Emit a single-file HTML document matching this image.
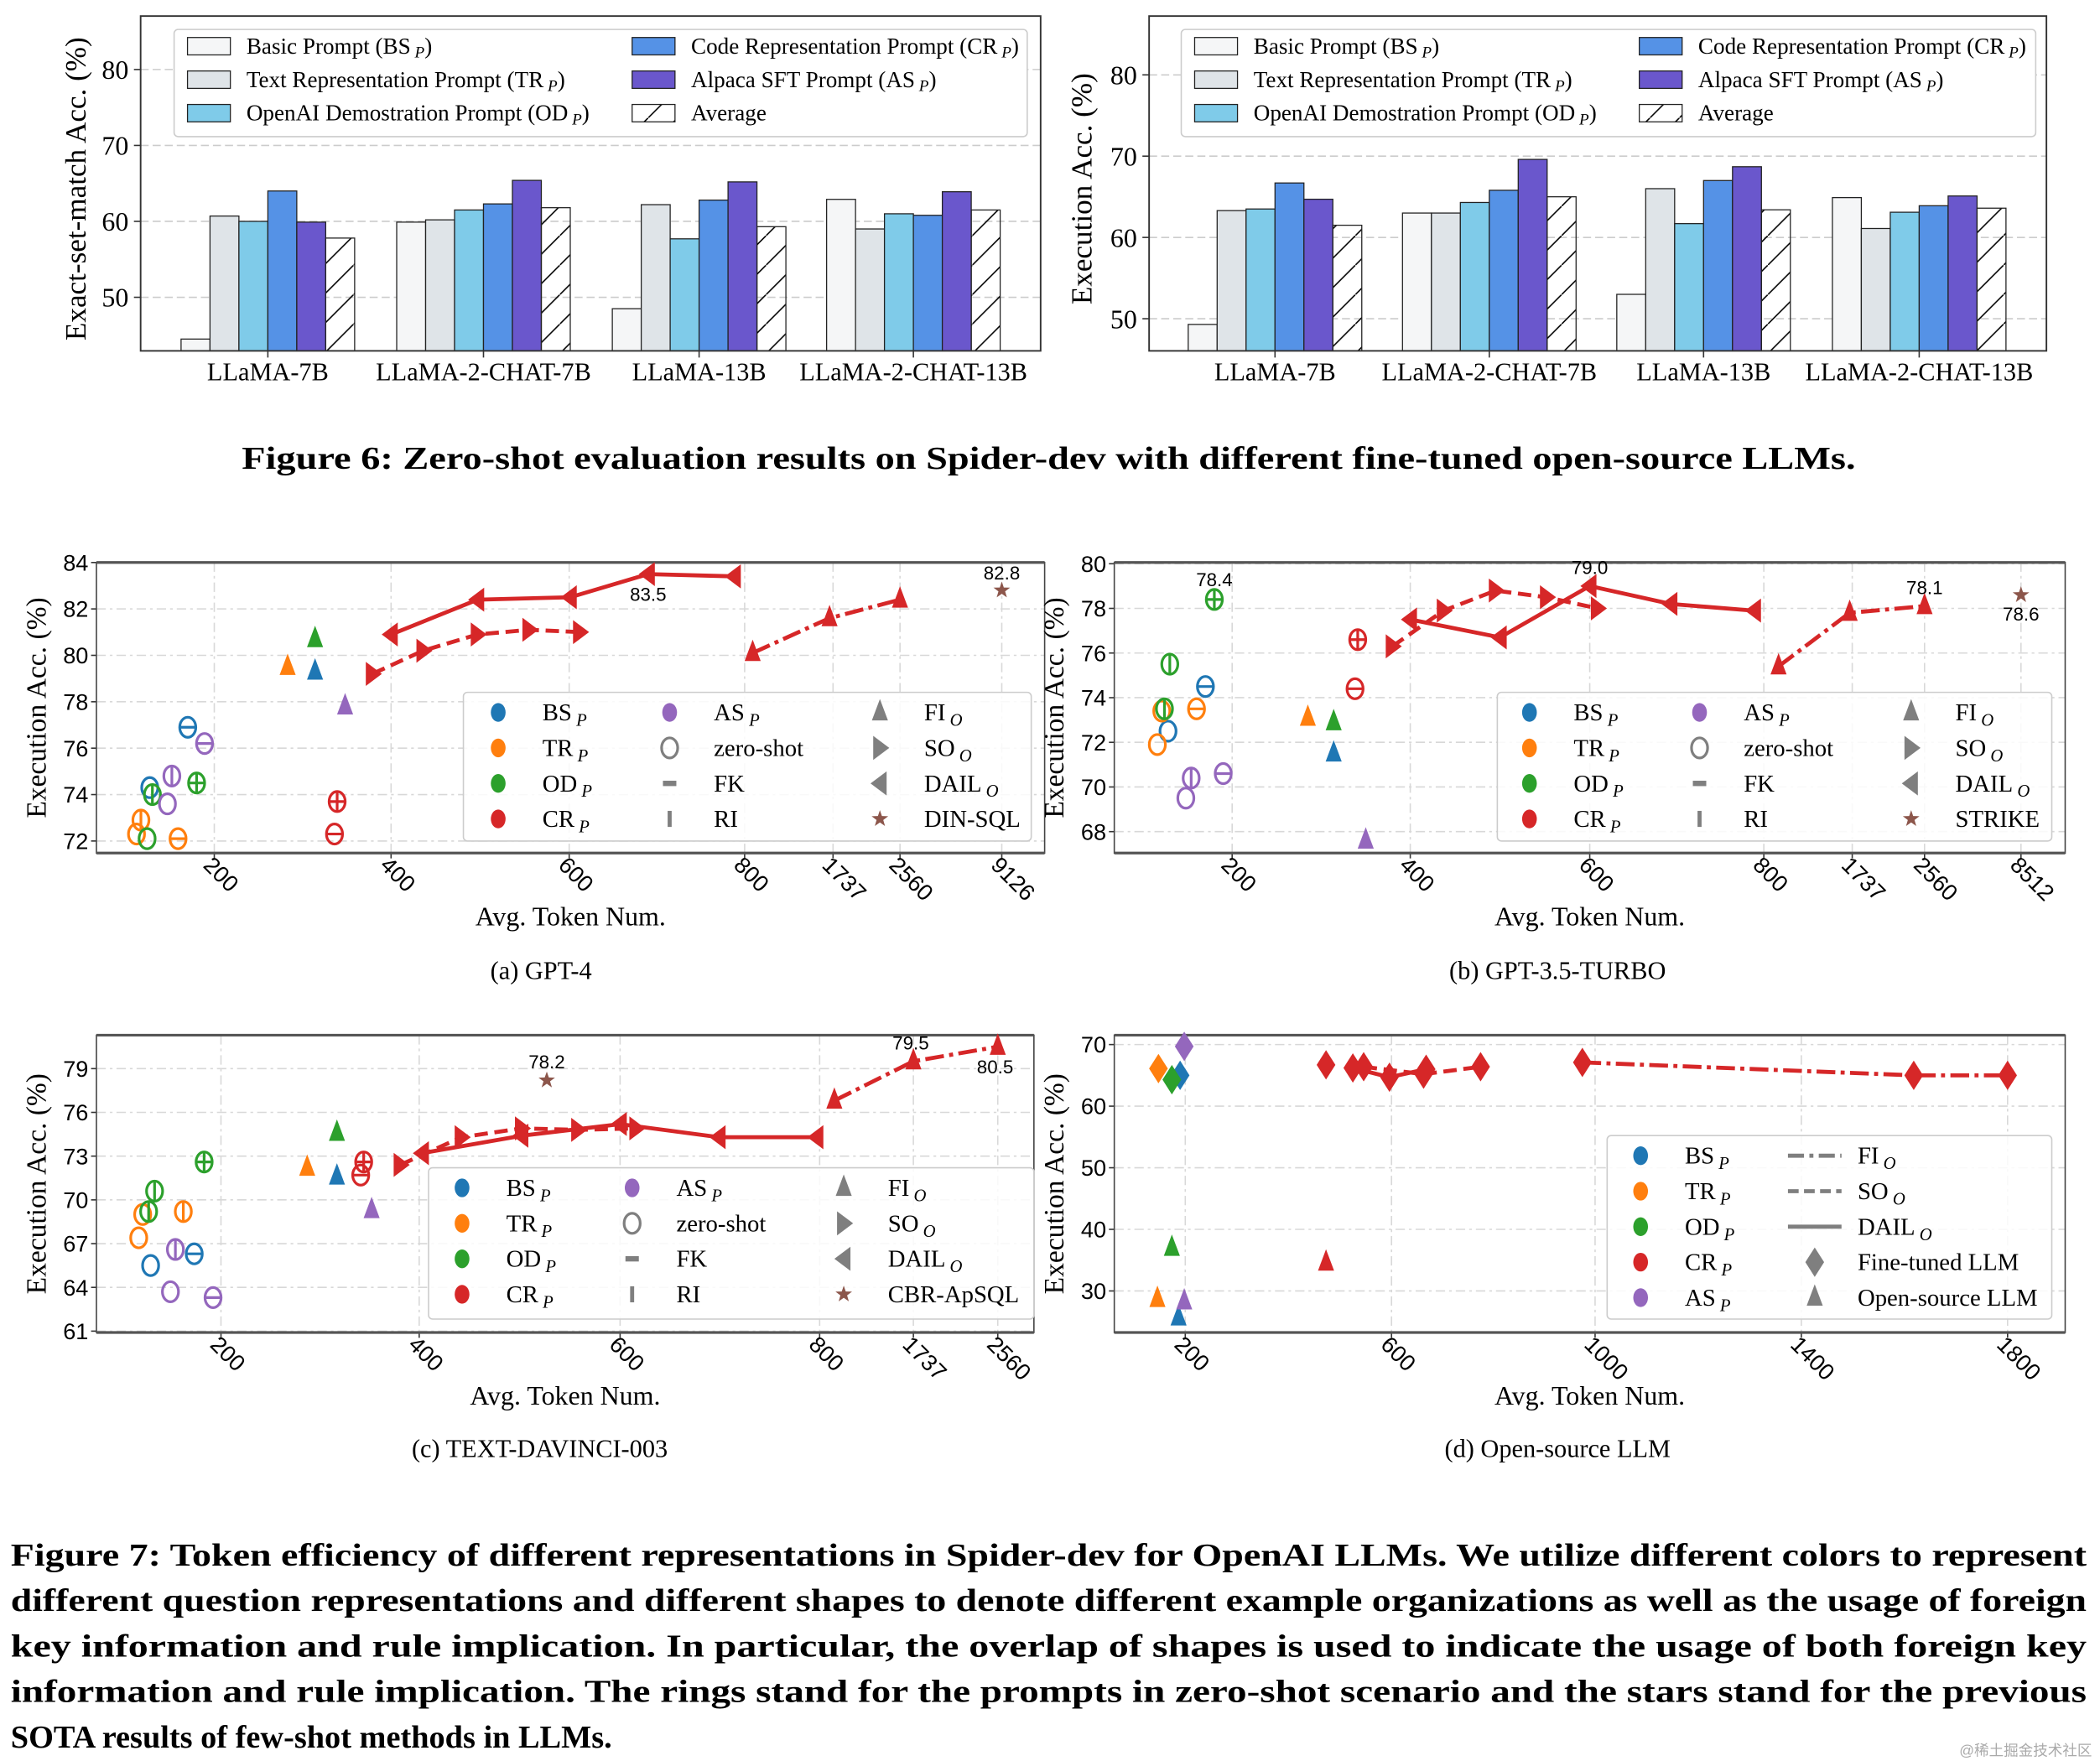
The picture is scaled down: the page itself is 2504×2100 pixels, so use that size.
<!DOCTYPE html>
<html><head><meta charset="utf-8">
<style>
html,body{margin:0;padding:0;background:#fff;}
svg{display:block;font-family:"Liberation Serif","Noto Serif CJK SC",serif;}
.sans{font-family:"Liberation Sans","Noto Sans CJK SC",sans-serif;}
</style></head>
<body>
<svg id="fig" xmlns="http://www.w3.org/2000/svg" width="2504" height="2100" viewBox="0 0 1568 1315" preserveAspectRatio="none">
<defs>
<pattern id="hatch" patternUnits="userSpaceOnUse" width="22" height="22">
<line x1="0" y1="22" x2="22" y2="0" stroke="#000" stroke-width="1"/>
</pattern>
</defs>
<rect x="0" y="0" width="1568" height="1315" fill="#fff"/>
<g id="root"></g>
<text x="783" y="350" text-anchor="middle" font-size="24" font-weight="bold" textLength="1205" lengthAdjust="spacingAndGlyphs">Figure 6: Zero-shot evaluation results on Spider-dev with different fine-tuned open-source LLMs.</text>
<text x="404" y="731" text-anchor="middle" font-size="19">(a)  GPT-4</text>
<text x="1163" y="731" text-anchor="middle" font-size="19">(b)  GPT-3.5-TURBO</text>
<text x="403" y="1088" text-anchor="middle" font-size="19">(c)  TEXT-DAVINCI-003</text>
<text x="1163" y="1088" text-anchor="middle" font-size="19">(d)  Open-source LLM</text>
<g font-size="24" font-weight="bold">
<text x="8" y="1169" textLength="1550" lengthAdjust="spacingAndGlyphs">Figure 7: Token efficiency of different representations in Spider-dev for OpenAI LLMs. We utilize different colors to represent</text>
<text x="8" y="1203" textLength="1550" lengthAdjust="spacingAndGlyphs">different question representations and different shapes to denote different example organizations as well as the usage of foreign</text>
<text x="8" y="1237" textLength="1550" lengthAdjust="spacingAndGlyphs">key information and rule implication. In particular, the overlap of shapes is used to indicate the usage of both foreign key</text>
<text x="8" y="1271" textLength="1550" lengthAdjust="spacingAndGlyphs">information and rule implication. The rings stand for the prompts in zero-shot scenario and the stars stand for the previous</text>
<text x="8" y="1305">SOTA results of few-shot methods in LLMs.</text>
</g>
<text x="1562" y="1311" text-anchor="end" font-size="11" fill="#aaa" class="sans">@稀土掘金技术社区</text>
</svg>
<script>
// ---------- data: bar charts ----------
const barGroups=['LLaMA-7B','LLaMA-2-CHAT-7B','LLaMA-13B','LLaMA-2-CHAT-13B'];
const emBasic=[44.5,59.9,48.5,62.9];
const emText=[60.7,60.2,62.2,59.0];
const emOD=[60.0,61.5,57.7,61.0];
const emCR=[64.0,62.3,62.8,60.8];
const emAS=[59.9,65.4,65.2,63.9];
const emAvg=[57.8,61.8,59.3,61.5];
const exBasic=[49.3,63.0,53.0,64.9];
const exText=[63.3,63.0,66.0,61.1];
const exOD=[63.5,64.3,61.7,63.1];
const exCR=[66.7,65.8,67.0,63.9];
const exAS=[64.7,69.6,68.7,65.1];
const exAvg=[61.5,65.0,63.4,63.6];
const barTicks=[50,60,70,80];

// ---------- data: scatter (a) GPT-4 ----------
const aXTicks=[200,400,600,800,1737,2560,9126];
const aYTicks=[72,74,76,78,80,82,84];
const aTok=[127,170,314,117,112,159,283,130,124,180,314,152,147,189,348,339,336];
const aVal=[74.3,76.9,79.3,72.9,72.3,72.1,79.5,74.0,72.1,74.5,80.7,74.8,73.6,76.2,77.8,73.7,72.3];
const aRep=['BS','BS','BS','TR','TR','TR','TR','OD','OD','OD','OD','AS','AS','AS','AS','CR','CR'];
const aMark=['o','o-','tri','o|','o','o-','tri','o|','o','o+','tri','o|','o','o-','tri','o+','o-'];
const aDailTok=[400,497,601,690,788];
const aDailVal=[80.9,82.4,82.5,83.5,83.4];
const aSoTok=[379,436,497,555,612];
const aSoVal=[79.2,80.2,80.9,81.1,81.0];
const aFiTok=[885,1700,2560];
const aFiVal=[80.1,81.6,82.4];
const aStarTok=[9126];
const aStarVal=[82.8];

// ---------- data: scatter (b) GPT-3.5 ----------
const bXTicks=[200,400,600,800,1737,2560,8512];
const bYTicks=[68,70,72,74,76,78,80];
const bTok=[128,170,314,116,121,160,285,124,130,180,314,148,154,190,350,341,338];
const bVal=[72.5,74.5,71.5,71.9,73.4,73.5,73.1,73.5,75.5,78.4,72.9,69.5,70.4,70.6,67.6,76.6,74.4];
const bRep=aRep;
const bMark=['o','o-','tri','o','o','o-','tri','o|','o|','o+','tri','o','o|','o-','tri','o+','o-'];
const bDailTok=[400,500,600,693,789];
const bDailVal=[77.5,76.7,79.0,78.2,77.9];
const bSoTok=[380,437,495,552,609];
const bSoVal=[76.3,77.9,78.8,78.5,78.0];
const bFiTok=[956,1710,2560];
const bFiVal=[75.4,77.8,78.1];
const bStarTok=[8512];
const bStarVal=[78.6];

// ---------- data: scatter (c) davinci ----------
const cXTicks=[200,400,600,800,1737,2560];
const cYTicks=[61,64,67,70,73,76,79];
const cTok=[129,173,317,117,121,162,287,127,133,183,317,149,154,192,352,344,341];
const cVal=[65.5,66.3,71.6,67.4,69.0,69.2,72.2,69.2,70.6,72.6,74.6,63.7,66.6,63.3,69.3,72.6,71.7];
const cRep=aRep;
const cMark=['o','o-','tri','o','o','o|','tri','o|','o|','o+','tri','o','o|','o-','tri','o+','o-'];
const cDailTok=[403,502,600,699,797];
const cDailVal=[73.2,74.4,75.2,74.3,74.3];
const cSoTok=[381,442,502,558,616];
const cSoVal=[72.4,74.3,74.9,74.8,74.9];
const cFiTok=[947,1737,2560];
const cFiVal=[76.8,79.5,80.5];
const cStarTok=[527];
const cStarVal=[78.2];

// ---------- data: scatter (d) open-source ----------
const dXTicks=[200,600,1000,1400,1800];
const dYTicks=[30,40,50,60,70];
const dDiaTok=[190,148,174,198];
const dDiaVal=[65.0,66.1,64.3,69.7];
const dDiaRep=['BS','TR','OD','AS'];
const dTriTok=[187,146,174,198,473];
const dTriVal=[25.7,28.7,37.0,28.3,34.6];
const dTriRep=['BS','TR','OD','AS','CR'];
const dCrTok=[473,525,546,596,663,668,775,975,1618,1823];
const dCrVal=[66.7,66.2,66.4,64.7,65.2,66.0,66.4,67.1,65.0,65.0];
const dSolidTok=[525,596,668];
const dSolidVal=[66.2,64.7,66.0];
const dDashTok=[546,663,775];
const dDashVal=[66.4,65.2,66.4];
const dDotTok=[975,1618,1823];
const dDotVal=[67.1,65.0,65.0];

// ---------- helpers ----------
const NS='http://www.w3.org/2000/svg';
const root=document.getElementById('root');
const COL={BS:'#1f77b4',TR:'#ff7f0e',OD:'#2ca02c',CR:'#d62728',AS:'#9467bd',G:'#7f7f7f',ST:'#8c564b'};
function el(parent,tag,attrs,name){
  const e=document.createElementNS(NS,tag);
  for(const k in attrs)e.setAttribute(k,attrs[k]);
  
  
  parent.appendChild(e);return e;
}
function txt(parent,x,y,s,size,extra,name){
  const t=el(parent,'text',Object.assign({x:x,y:y,'font-size':size},extra||{}),name);
  t.textContent=s;return t;
}
function subLabel(parent,x,y,main,sub,size,name){
  const t=el(parent,'text',{x:x,y:y,'font-size':size},name);
  t.appendChild(document.createTextNode(main));
  const ts=document.createElementNS(NS,'tspan');
  ts.setAttribute('font-size',size*0.72);ts.setAttribute('font-style','italic');ts.setAttribute('dy',4);
  ts.textContent=' '+sub;t.appendChild(ts);return t;
}

// ---------- bar charts ----------
function barChart(cfg){
  const g=el(root,'g',{},cfg.name);
  const y=v=>cfg.yRef-(v-50)*cfg.ppu;
  barTicks.forEach(t=>{
    el(g,'line',{x1:cfg.L,x2:cfg.R,y1:y(t),y2:y(t),stroke:'#ccc','stroke-dasharray':'6,3','stroke-width':1},'y-gridline');
    el(g,'line',{x1:cfg.L-5,x2:cfg.L,y1:y(t),y2:y(t),stroke:'#333'},'y-tick');
    txt(g,cfg.L-9,y(t)+7,String(t),20,{'text-anchor':'end'},'y-tick-label');
  });
  const fills=['#f5f6f7','#dfe4e8','#7fcbe9','#5592e6','#6a57cc','url(#hatch)'];
  const names=['bar-basic','bar-text-repr','bar-openai-demo','bar-code-repr','bar-alpaca-sft','bar-average'];
  const bw=21.6;
  barGroups.forEach((grp,gi)=>{
    const cx=cfg.centers[gi];
    cfg.series.forEach((s,si)=>{
      const x=cx+(si-3)*bw;
      el(g,'rect',{x:x,y:y(s[gi]),width:bw,height:cfg.B-y(s[gi]),fill:fills[si],stroke:'#222','stroke-width':0.8},names[si]);
    });
    txt(g,cx,cfg.B+22,grp,19,{'text-anchor':'middle'},'x-tick-label');
    el(g,'line',{x1:cx,x2:cx,y1:cfg.B,y2:cfg.B+5,stroke:'#333'},'x-tick');
  });
  el(g,'rect',{x:cfg.L,y:cfg.T,width:cfg.R-cfg.L,height:cfg.B-cfg.T,fill:'none',stroke:'#333','stroke-width':1.2},'plot-frame');
  txt(g,0,0,cfg.ylabel,22,{'text-anchor':'middle',transform:`translate(${cfg.yLabX},${(cfg.T+cfg.B)/2+4}) rotate(-90)`},'y-axis-title');
  const lg=el(g,'g',{},'legend');
  el(lg,'rect',{x:cfg.lx,y:22,width:cfg.lw,height:80,rx:3,fill:'#fff',stroke:'#ccc'},'legend-box');
  const labs=[['Basic Prompt (BS','P',')'],['Text Representation Prompt (TR','P',')'],['OpenAI Demostration Prompt (OD','P',')'],['Code Representation Prompt (CR','P',')'],['Alpaca SFT Prompt (AS','P',')'],['Average','','']];
  labs.forEach((l,i)=>{
    const col=i<3?0:1,row=i%3;
    const px=col?cfg.lx2:cfg.lx+10, py=28+row*25;
    el(lg,'rect',{x:px,y:py,width:32,height:13,fill:fills[i],stroke:'#222','stroke-width':0.8},'legend-swatch');
    const t=el(lg,'text',{x:px+44,y:py+12,'font-size':17},'legend-label');
    t.appendChild(document.createTextNode(l[0]));
    if(l[1]){const ts=document.createElementNS(NS,'tspan');ts.setAttribute('font-size',12);ts.setAttribute('font-style','italic');ts.setAttribute('dy',3);ts.textContent=' '+l[1];t.appendChild(ts);
      const ts2=document.createElementNS(NS,'tspan');ts2.setAttribute('dy',-3);ts2.textContent=l[2];t.appendChild(ts2);}
  });
}
barChart({name:'exact-match-bar-chart',L:105,R:777,T:12,B:262,yRef:222,ppu:5.67,centers:[200,361,522,682],series:[emBasic,emText,emOD,emCR,emAS,emAvg],ylabel:'Exact-set-match Acc. (%)',yLabX:64,lx:130,lw:637,lx2:472});
barChart({name:'execution-bar-chart',L:858,R:1528,T:12,B:262,yRef:238,ppu:6.07,centers:[952,1112,1272,1433],series:[exBasic,exText,exOD,exCR,exAS,exAvg],ylabel:'Execution Acc. (%)',yLabX:815,lx:882,lw:638,lx2:1224});

// ---------- scatter charts ----------
function markerAt(g,kind,x,y,c,name){
  const sw=2;
  if(kind==='fk'){el(g,'rect',{x:x-5,y:y-2,width:10,height:4,fill:c},name);return;}
  if(kind==='ri'){el(g,'rect',{x:x-1.5,y:y-6,width:3,height:12,fill:c},name);return;}
  if(kind[0]==='o'){
    el(g,'ellipse',{cx:x,cy:y,rx:6,ry:7.5,fill:'none',stroke:c,'stroke-width':sw},name);
    if(kind.includes('-')||kind.includes('+'))el(g,'line',{x1:x-6,x2:x+6,y1:y,y2:y,stroke:c,'stroke-width':sw},name+'-fk');
    if(kind.includes('|')||kind.includes('+'))el(g,'line',{x1:x,x2:x,y1:y-7.5,y2:y+7.5,stroke:c,'stroke-width':sw},name+'-ri');
  }else if(kind==='tri'){
    el(g,'polygon',{points:`${x},${y-10} ${x-6},${y+6} ${x+6},${y+6}`,fill:c},name);
  }else if(kind==='rtri'){
    el(g,'polygon',{points:`${x+7},${y} ${x-5},${y-9} ${x-5},${y+9}`,fill:c},name);
  }else if(kind==='ltri'){
    el(g,'polygon',{points:`${x-7},${y} ${x+5},${y-9} ${x+5},${y+9}`,fill:c},name);
  }else if(kind==='dia'){
    el(g,'polygon',{points:`${x},${y-11} ${x+7},${y} ${x},${y+11} ${x-7},${y}`,fill:c},name);
  }else if(kind==='dot'){
    el(g,'ellipse',{cx:x,cy:y,rx:5.5,ry:7,fill:c},name);
  }else if(kind==='star'){
    let p=[];for(let i=0;i<10;i++){const r=i%2?2.6:6.5,a=-Math.PI/2+i*Math.PI/5;p.push((x+r*Math.cos(a)).toFixed(1)+','+(y+r*Math.sin(a)).toFixed(1));}
    el(g,'polygon',{points:p.join(' '),fill:c},name);
  }
}
function makeX(ticks,px){
  return v=>{
    if(v<=ticks[0]){return px[0]+(v-ticks[0])*(px[1]-px[0])/(ticks[1]-ticks[0]);}
    for(let i=0;i<ticks.length-1;i++){if(v<=ticks[i+1])return px[i]+(v-ticks[i])/(ticks[i+1]-ticks[i])*(px[i+1]-px[i]);}
    return px[px.length-1];
  };
}
function scatterFrame(cfg){
  const g=el(root,'g',{},cfg.name);
  const X=makeX(cfg.xTicks,cfg.xPx);
  const Y=v=>cfg.py0-(v-cfg.v0)*cfg.ppu;
  cfg.yTicks.forEach(t=>{
    el(g,'line',{x1:cfg.L,x2:cfg.R,y1:Y(t),y2:Y(t),stroke:'#d8d8d8','stroke-dasharray':'7,3,2,3'},'y-gridline');
    el(g,'line',{x1:cfg.L-4,x2:cfg.L,y1:Y(t),y2:Y(t),stroke:'#333'},'y-tick');
    txt(g,cfg.L-6,Y(t)+6,String(t),17,{'text-anchor':'end',class:'sans'},'y-tick-label');
  });
  cfg.xTicks.forEach(t=>{
    const x=X(t);
    el(g,'line',{x1:x,x2:x,y1:cfg.T,y2:cfg.B,stroke:'#d8d8d8','stroke-dasharray':'7,3,2,3'},'x-gridline');
    el(g,'line',{x1:x,x2:x,y1:cfg.B,y2:cfg.B+4,stroke:'#333'},'x-tick');
    txt(g,0,0,String(t),17,{class:'sans',transform:`translate(${x-9},${cfg.B+10}) rotate(45)`},'x-tick-label');
  });
  el(g,'rect',{x:cfg.L,y:cfg.T,width:cfg.R-cfg.L,height:cfg.B-cfg.T,fill:'none',stroke:'#444','stroke-width':1},'plot-frame');
  el(g,'line',{x1:cfg.L,x2:cfg.R,y1:cfg.T,y2:cfg.T,stroke:'#555','stroke-width':2},'top-spine');
  el(g,'line',{x1:cfg.L,x2:cfg.R,y1:cfg.B,y2:cfg.B,stroke:'#555','stroke-width':2},'bottom-spine');
  txt(g,(cfg.L+cfg.R)/2,cfg.B+54,'Avg. Token Num.',20,{'text-anchor':'middle'},'x-axis-title');
  txt(g,0,0,'Execution Acc. (%)',21,{'text-anchor':'middle',transform:`translate(${cfg.L-38},${(cfg.T+cfg.B)/2}) rotate(-90)`},'y-axis-title');
  return {g,X,Y};
}
function drawLine(g,X,Y,toks,vals,dash,name){
  const pts=toks.map((t,i)=>X(t).toFixed(1)+','+Y(vals[i]).toFixed(1)).join(' ');
  const a={points:pts,fill:'none',stroke:COL.CR,'stroke-width':3};
  if(dash)a['stroke-dasharray']=dash;
  el(g,'polyline',a,name);
}
function scatterChart(cfg,d){
  const {g,X,Y}=scatterFrame(cfg);
  drawLine(g,X,Y,d.dailT,d.dailV,null,'dail-line');
  drawLine(g,X,Y,d.soT,d.soV,'10,5','so-line');
  drawLine(g,X,Y,d.fiT,d.fiV,'14,4,3,4','fi-line');
  d.dailT.forEach((t,i)=>markerAt(g,'ltri',X(t),Y(d.dailV[i]),COL.CR,'dail-point'));
  d.soT.forEach((t,i)=>markerAt(g,'rtri',X(t),Y(d.soV[i]),COL.CR,'so-point'));
  d.fiT.forEach((t,i)=>markerAt(g,'tri',X(t),Y(d.fiV[i]),COL.CR,'fi-point'));
  d.tok.forEach((t,i)=>markerAt(g,d.mark[i],X(t),Y(d.val[i]),COL[d.rep[i]],'point-'+d.rep[i].toLowerCase()));
  d.starT.forEach((t,i)=>markerAt(g,'star',X(t),Y(d.starV[i]),COL.ST,'sota-star'));
  return {g,X,Y};
}
function scatterLegend(g,lx,ly,lw,lh,cols,rows,entries){
  const lg=el(g,'g',{},'legend');
  el(lg,'rect',{x:lx,y:ly,width:lw,height:lh,rx:3,fill:'#fff','fill-opacity':0.85,stroke:'#ccc'},'legend-box');
  entries.forEach((e,i)=>{
    const c=Math.floor(i/rows),r=i%rows;
    const mx=cols[c][0],tx=cols[c][1],y=ly+15+r*26.5;
    if(e.line){el(lg,'line',{x1:mx-20,x2:mx+20,y1:y,y2:y,stroke:COL.G,'stroke-width':3,'stroke-dasharray':e.line==='solid'?'none':e.line},'legend-line-sample');}
    else markerAt(lg,e.m,mx,y,e.c,'legend-marker');
    if(e.sub)subLabel(lg,tx,y+6,e.t,e.sub,18,'legend-label');else txt(lg,tx,y+6,e.t,18,{},'legend-label');
  });
}
const P='P',O='O';
function stdEntries(star){return [
 {m:'dot',c:COL.BS,t:'BS',sub:P},{m:'dot',c:COL.TR,t:'TR',sub:P},{m:'dot',c:COL.OD,t:'OD',sub:P},{m:'dot',c:COL.CR,t:'CR',sub:P},
 {m:'dot',c:COL.AS,t:'AS',sub:P},{m:'o',c:COL.G,t:'zero-shot'},{m:'fk',c:COL.G,t:'FK'},{m:'ri',c:COL.G,t:'RI'},
 {m:'tri',c:COL.G,t:'FI',sub:O},{m:'rtri',c:COL.G,t:'SO',sub:O},{m:'ltri',c:COL.G,t:'DAIL',sub:O},{m:'star',c:COL.ST,t:star}];}

// (a)
(function(){
  const cfg={name:'scatter-gpt4',L:72,R:780,T:420,B:637,v0:72,py0:628,ppu:17.33,xTicks:aXTicks,xPx:[160,292,425,556,622,672,748],yTicks:aYTicks};
  const {g,X,Y}=scatterChart(cfg,{tok:aTok,val:aVal,rep:aRep,mark:aMark,dailT:aDailTok,dailV:aDailVal,soT:aSoTok,soV:aSoVal,fiT:aFiTok,fiV:aFiVal,starT:aStarTok,starV:aStarVal});
  txt(g,X(aDailTok[3]),Y(aDailVal[3])+20,'83.5',14,{'text-anchor':'middle',class:'sans'},'annotation-best');
  txt(g,X(aStarTok[0]),Y(aStarVal[0])-8,'82.8',14,{'text-anchor':'middle',class:'sans'},'annotation-sota');
  scatterLegend(g,346,517,424,111,[[372,405],[500,533],[657,690]],4,stdEntries('DIN-SQL'));
})();
// (b)
(function(){
  const cfg={name:'scatter-gpt35',L:832,R:1542,T:420,B:637,v0:68,py0:621,ppu:16.67,xTicks:bXTicks,xPx:[920,1053,1187,1317,1383,1437,1509],yTicks:bYTicks};
  const {g,X,Y}=scatterChart(cfg,{tok:bTok,val:bVal,rep:bRep,mark:bMark,dailT:bDailTok,dailV:bDailVal,soT:bSoTok,soV:bSoVal,fiT:bFiTok,fiV:bFiVal,starT:bStarTok,starV:bStarVal});
  txt(g,X(bTok[9]),Y(bVal[9])-10,'78.4',14,{'text-anchor':'middle',class:'sans'},'annotation-od');
  txt(g,X(bDailTok[2]),Y(bDailVal[2])-9,'79.0',14,{'text-anchor':'middle',class:'sans'},'annotation-best');
  txt(g,X(bFiTok[2]),Y(bFiVal[2])-9,'78.1',14,{'text-anchor':'middle',class:'sans'},'annotation-fi');
  txt(g,X(bStarTok[0]),Y(bStarVal[0])+19,'78.6',14,{'text-anchor':'middle',class:'sans'},'annotation-sota');
  scatterLegend(g,1118,517,414,111,[[1142,1175],[1269,1302],[1427,1460]],4,stdEntries('STRIKE'));
})();
// (c)
(function(){
  const cfg={name:'scatter-davinci',L:72,R:772,T:773,B:995,v0:61,py0:994,ppu:10.89,xTicks:cXTicks,xPx:[165,313,463,612,682,745],yTicks:cYTicks};
  const {g,X,Y}=scatterChart(cfg,{tok:cTok,val:cVal,rep:cRep,mark:cMark,dailT:cDailTok,dailV:cDailVal,soT:cSoTok,soV:cSoVal,fiT:cFiTok,fiV:cFiVal,starT:cStarTok,starV:cStarVal});
  txt(g,X(cStarTok[0]),Y(cStarVal[0])-9,'78.2',14,{'text-anchor':'middle',class:'sans'},'annotation-sota');
  txt(g,X(cFiTok[1])-2,Y(cFiVal[1])-9,'79.5',14,{'text-anchor':'middle',class:'sans'},'annotation-fi');
  txt(g,X(cFiTok[2])-2,Y(cFiVal[2])+20,'80.5',14,{'text-anchor':'middle',class:'sans'},'annotation-best');
  scatterLegend(g,320,872,452,113,[[345,378],[472,505],[630,663]],4,stdEntries('CBR-ApSQL'));
})();
// (d)
(function(){
  const cfg={name:'scatter-open-source',L:832,R:1542,T:773,B:995,v0:30,py0:964,ppu:4.6,xTicks:dXTicks,xPx:[885,1039,1191,1345,1499],yTicks:dYTicks};
  const {g,X,Y}=scatterFrame(cfg);
  drawLine(g,X,Y,dSolidTok,dSolidVal,null,'dail-line');
  drawLine(g,X,Y,dDashTok,dDashVal,'10,5','so-line');
  drawLine(g,X,Y,dDotTok,dDotVal,'14,4,3,4','fi-line');
  dCrTok.forEach((t,i)=>markerAt(g,'dia',X(t),Y(dCrVal[i]),COL.CR,'point-cr-finetuned'));
  dDiaTok.forEach((t,i)=>markerAt(g,'dia',X(t),Y(dDiaVal[i]),COL[dDiaRep[i]],'point-finetuned'));
  dTriTok.forEach((t,i)=>markerAt(g,'tri',X(t),Y(dTriVal[i]),COL[dTriRep[i]],'point-open-source'));
  scatterLegend(g,1200,848,332,137,[[1225,1258],[1355,1387]],5,[
   {m:'dot',c:COL.BS,t:'BS',sub:P},{m:'dot',c:COL.TR,t:'TR',sub:P},{m:'dot',c:COL.OD,t:'OD',sub:P},{m:'dot',c:COL.CR,t:'CR',sub:P},{m:'dot',c:COL.AS,t:'AS',sub:P},
   {line:'12,4,3,4',t:'FI',sub:O},{line:'8,4',t:'SO',sub:O},{line:'solid',t:'DAIL',sub:O},{m:'dia',c:COL.G,t:'Fine-tuned LLM'},{m:'tri',c:COL.G,t:'Open-source LLM'}]);
})();
</script>
</body></html>
